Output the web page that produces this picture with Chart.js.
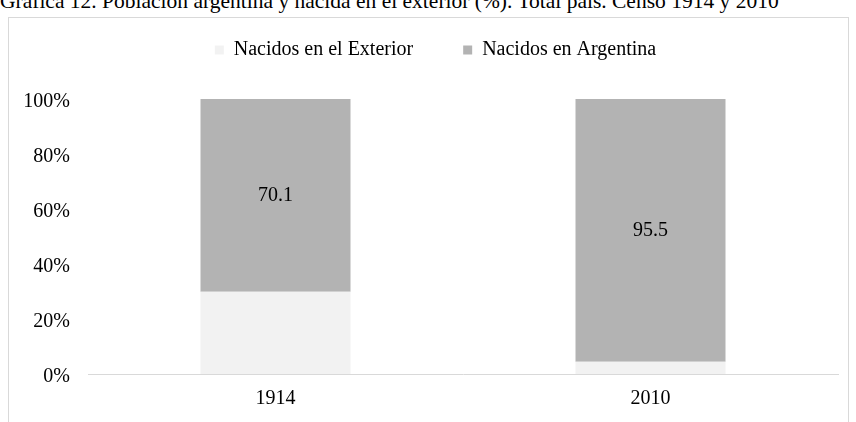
<!DOCTYPE html>
<html lang="es">
<head>
<meta charset="UTF-8">
<title>Gráfica 12</title>
<script src="https://cdn.jsdelivr.net/npm/chart.js"></script>
<style>
  body { margin: 0; background: #fff; width: 856px; height: 422px; overflow: hidden; position: relative; }
  #title { position: absolute; left: 0; top: -9px; font: 21.5px "Liberation Serif", serif; line-height: 21px; white-space: nowrap; color: #000; }
  #frame { position: absolute; left: 8px; top: 17px; width: 839px; height: 500px; border: 1px solid #d9d9d9; }
  #chart { position: absolute; left: 9px; top: -10px; }
</style>
</head>
<body>
<div id="title">Gráfica 12. Población argentina y nacida en el exterior (%). Total país. Censo 1914 y 2010</div>
<div id="frame"></div>
<canvas id="chart" width="847" height="432"></canvas>
<script>
const years = ['1914', '2010'];
const exterior = [29.9, 4.5];
const argentina = [70.1, 95.5];
const seriesNames = ['Nacidos en el Exterior', 'Nacidos en Argentina'];
const seriesColors = ['#f2f2f2', '#b3b3b3'];

const FONT = "'Liberation Serif', 'Times New Roman', serif";

// legend sits high, plot starts well below it
const legendHeight = {
  id: 'legendHeight',
  afterInit(chart) {
    const fit = chart.legend.fit;
    chart.legend.fit = function () {
      fit.call(this);
      this.height = 109;
    };
  },
  afterLayout(chart) {
    chart.legend.left += 12;
    chart.legend.right += 12;
  }
};

// value labels only on the "Argentina" segments
const segLabels = {
  id: 'segLabels',
  afterDatasetsDraw(chart) {
    const ctx = chart.ctx;
    const meta = chart.getDatasetMeta(1);
    ctx.save();
    ctx.font = '20px ' + FONT;
    ctx.fillStyle = '#000';
    ctx.textAlign = 'center';
    ctx.textBaseline = 'middle';
    meta.data.forEach((bar, i) => {
      ctx.fillText(argentina[i].toFixed(1), bar.x, (bar.y + bar.base) / 2);
    });
    ctx.restore();
  }
};

new Chart(document.getElementById('chart'), {
  type: 'bar',
  data: {
    labels: years,
    datasets: [
      { label: seriesNames[0], data: exterior, backgroundColor: seriesColors[0], borderWidth: 0 },
      { label: seriesNames[1], data: argentina, backgroundColor: seriesColors[1], borderWidth: 0 }
    ]
  },
  options: {
    responsive: false,
    animation: false,
    layout: { padding: { left: 0, right: 18, top: 0, bottom: 0 } },
    datasets: { bar: { categoryPercentage: 1, barPercentage: 0.4 } },
    plugins: {
      legend: {
        position: 'top',
        labels: {
          font: { family: FONT, size: 20 },
          color: '#000',
          boxWidth: 9,
          boxHeight: 9,
          padding: 50
        }
      },
      tooltip: { enabled: false }
    },
    scales: {
      x: {
        stacked: true,
        grid: { display: false, drawTicks: false },
        border: { display: true, color: '#d9d9d9', width: 1 },
        ticks: { font: { family: FONT, size: 20 }, color: '#000', padding: 13 },
        afterFit(axis) { axis.height = 48; }
      },
      y: {
        stacked: true,
        min: 0,
        max: 100,
        grid: { display: false, drawTicks: false },
        border: { display: false },
        ticks: {
          stepSize: 20,
          font: { family: FONT, size: 20 },
          color: '#000',
          padding: 18,
          labelOffset: 3,
          callback: v => v + '%'
        },
        afterFit(axis) { axis.width = 79; }
      }
    }
  },
  plugins: [legendHeight, segLabels]
});
</script>
</body>
</html>
